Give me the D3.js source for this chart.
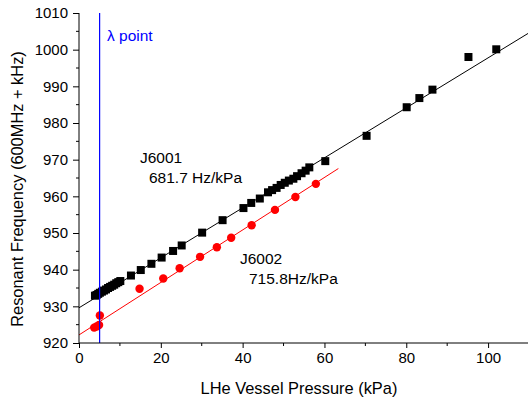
<!DOCTYPE html>
<html>
<head>
<meta charset="utf-8">
<script src="https://cdn.jsdelivr.net/npm/d3@7"></script>
<style>
  html, body { margin: 0; padding: 0; background: #fff; }
  svg { display: block; font-family: "Liberation Sans", Arial, sans-serif; }
</style>
</head>
<body>
<svg id="chart" width="528" height="402"></svg>
<script>
// J6001 resonant frequency vs. LHe vessel pressure (kPa, kHz above 600 MHz)
const j6001Pressure = [3.9, 4.3, 4.7, 5.1, 5.6, 6.1, 6.6, 7.1, 7.6, 8.1, 8.6, 9.1, 9.6, 10.1,
  12.7, 15.1, 17.7, 20.2, 23.0, 25.1, 30.1, 35.1, 40.2, 42.1, 44.2, 46.2, 47.2, 48.3, 49.3,
  50.3, 51.3, 52.4, 53.3, 54.4, 55.4, 56.3, 60.2, 70.3, 80.1, 83.2, 86.4, 95.2, 102.0];
const j6001Freq = [932.9, 933.1, 933.4, 933.7, 934.0, 934.3, 934.6, 935.0, 935.3, 935.6, 935.9, 936.3, 936.6, 936.9,
  938.4, 939.9, 941.6, 943.3, 945.1, 946.6, 950.1, 953.5, 956.8, 958.2, 959.4, 961.1, 961.7, 962.3, 963.1,
  963.7, 964.3, 964.8, 965.5, 966.3, 967.0, 967.9, 969.6, 976.5, 984.3, 986.8, 989.1, 998.0, 1000.1];

// J6002
const j6002Pressure = [3.7, 4.3, 4.9, 5.1, 14.8, 20.6, 24.6, 29.6, 33.7, 37.2, 42.2, 47.9, 52.9, 57.9];
const j6002Freq = [924.2, 924.5, 924.9, 927.5, 934.8, 937.6, 940.4, 943.5, 946.1, 948.7, 952.1, 956.3, 959.8, 963.4];

// Linear fits: intercept (kHz), slope (kHz/kPa), pressure span
const fitJ6001 = { intercept: 929.6, slope: 0.6817, from: 0, to: 115 };
const fitJ6002 = { intercept: 922.2, slope: 0.7158, from: 0, to: 63.4 };

const lambdaPressure = 5.04;

const xTicks = [0, 20, 40, 60, 80, 100];
const yTicks = [920, 930, 940, 950, 960, 970, 980, 990, 1000, 1010];

const svg = d3.select("#chart");
const mLeft = 79, mRight = 529, mTop = 13, mBottom = 343;

const x = d3.scaleLinear().domain([0, 110]).range([mLeft, mRight]);
const y = d3.scaleLinear().domain([920, 1010]).range([mBottom, mTop]);

svg.append("defs").append("clipPath").attr("id", "plotClip")
  .append("rect").attr("x", mLeft).attr("y", mTop - 10).attr("width", mRight - mLeft).attr("height", mBottom - mTop + 10);

const plot = svg.append("g").attr("clip-path", "url(#plotClip)");

// fit lines
function fitLine(fit, color) {
  plot.append("line")
    .attr("x1", x(fit.from)).attr("y1", y(fit.intercept + fit.slope * fit.from))
    .attr("x2", x(fit.to)).attr("y2", y(fit.intercept + fit.slope * fit.to))
    .attr("stroke", color).attr("stroke-width", 1);
}
fitLine(fitJ6001, "#000");
fitLine(fitJ6002, "#ff0000");

// markers
plot.selectAll("rect.j6001").data(j6001Pressure).join("rect")
  .attr("class", "j6001")
  .attr("x", d => x(d) - 4).attr("y", (d, i) => y(j6001Freq[i]) - 4)
  .attr("width", 8).attr("height", 8).attr("fill", "#000");

plot.selectAll("circle.j6002").data(j6002Pressure).join("circle")
  .attr("class", "j6002")
  .attr("cx", d => x(d)).attr("cy", (d, i) => y(j6002Freq[i]))
  .attr("r", 4.2).attr("fill", "#ff0000");

// lambda point line
svg.append("line")
  .attr("x1", x(lambdaPressure)).attr("x2", x(lambdaPressure))
  .attr("y1", y(1010)).attr("y2", y(920))
  .attr("stroke", "#0000ff").attr("stroke-width", 1.2);

// axes
const xAxis = d3.axisBottom(x).tickValues(xTicks).tickSize(5).tickPadding(4).tickFormat(d3.format("d"));
const gx = svg.append("g").attr("transform", `translate(0,${mBottom})`).call(xAxis);
gx.select(".domain").attr("d", `M${mLeft},0H${mRight}`);
gx.selectAll(".tick line").attr("stroke", "#000");
gx.selectAll("text").attr("font-size", 15).attr("fill", "#000");

// minor x ticks
svg.append("g").selectAll("line").data(d3.range(10, 111, 20)).join("line")
  .attr("x1", d => x(d)).attr("x2", d => x(d))
  .attr("y1", mBottom).attr("y2", mBottom + 3).attr("stroke", "#000");

const yAxis = d3.axisLeft(y).tickValues(yTicks).tickSize(6).tickPadding(5).tickFormat(d3.format("d"));
const gy = svg.append("g").attr("transform", `translate(${mLeft},0)`).call(yAxis);
gy.select(".domain").attr("d", `M0,${mTop}V${mBottom}`);
gy.selectAll(".tick line").attr("stroke", "#000");
gy.selectAll("text").attr("font-size", 15).attr("fill", "#000");

// minor y ticks
svg.append("g").selectAll("line").data(d3.range(925, 1010, 10)).join("line")
  .attr("x1", mLeft - 3).attr("x2", mLeft)
  .attr("y1", d => y(d)).attr("y2", d => y(d)).attr("stroke", "#000");

// axis titles
svg.append("text").attr("x", (mLeft + mRight) / 2 - 5).attr("y", 394)
  .attr("text-anchor", "middle").attr("font-size", 16.4).text("LHe Vessel Pressure (kPa)");
svg.append("text").attr("transform", `translate(23,${(mTop + mBottom) / 2 + 11}) rotate(-90)`)
  .attr("text-anchor", "middle").attr("font-size", 16.4).text("Resonant Frequency (600MHz + kHz)");

// annotations
svg.append("text").attr("x", 107).attr("y", 41).attr("font-size", 15.5)
  .attr("fill", "#0000ff").text("λ point");
svg.append("text").attr("x", 140).attr("y", 163).attr("font-size", 15.5).text("J6001");
svg.append("text").attr("x", 149).attr("y", 183).attr("font-size", 15.5).text("681.7 Hz/kPa");
svg.append("text").attr("x", 240).attr("y", 264).attr("font-size", 15.5).text("J6002");
svg.append("text").attr("x", 249).attr("y", 284).attr("font-size", 15.5).text("715.8Hz/kPa");
</script>
</body>
</html>
